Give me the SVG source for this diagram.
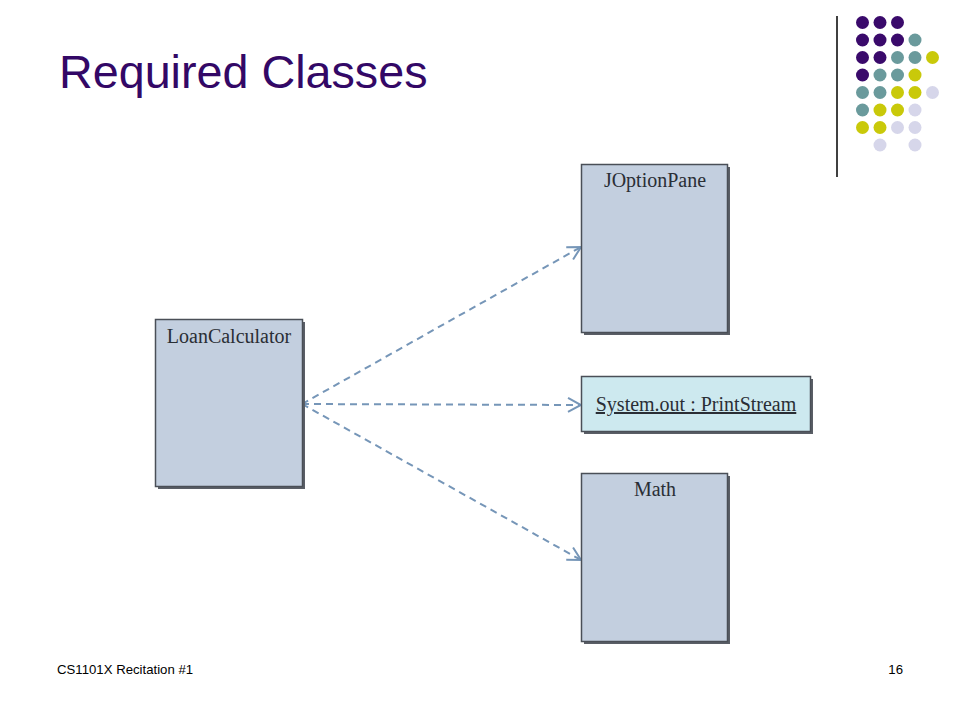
<svg xmlns="http://www.w3.org/2000/svg" width="960" height="720" viewBox="0 0 960 720">
<defs>
<style>
.box{fill:#C3CFDF;stroke:#4A4F57;stroke-width:1.5}
.obj{fill:#CDE9EF;stroke:#4A4F57;stroke-width:1.5}
.shadow{fill:#5A5E66}
.lbl{font-family:"Liberation Serif","Times New Roman",serif;font-size:20px;fill:#2A2E35;text-anchor:middle}
.conn{fill:none;stroke:#7696B8;stroke-width:2;stroke-dasharray:7,5}
.foot{font-family:"Liberation Sans",Arial,sans-serif;font-size:13.2px;fill:#000}
.p{fill:#3A0A6B}.t{fill:#6A9A9C}.y{fill:#C9C90A}.l{fill:#D6D6EA}
</style>
<marker id="arr" markerWidth="16" markerHeight="16" refX="14" refY="8" orient="auto" markerUnits="userSpaceOnUse">
<path d="M1,1 L14,8 L1,15" fill="none" stroke="#7696B8" stroke-width="2"/>
</marker>
</defs>
<rect width="960" height="720" fill="#FFFFFF"/>

<g id="title">
<text x="59" y="88" font-family="Liberation Sans, Arial, sans-serif" font-size="46.7" fill="#330866">Required Classes</text>
</g>

<g id="decor">
<line x1="837" y1="16" x2="837" y2="177" stroke="#000" stroke-width="1.5"/>
<circle class="p" cx="862.5" cy="22.5" r="6.5"/><circle class="p" cx="880" cy="22.5" r="6.5"/><circle class="p" cx="897.5" cy="22.5" r="6.5"/>
<circle class="p" cx="862.5" cy="40" r="6.5"/><circle class="p" cx="880" cy="40" r="6.5"/><circle class="p" cx="897.5" cy="40" r="6.5"/><circle class="t" cx="915" cy="40" r="6.5"/>
<circle class="p" cx="862.5" cy="57.5" r="6.5"/><circle class="p" cx="880" cy="57.5" r="6.5"/><circle class="t" cx="897.5" cy="57.5" r="6.5"/><circle class="t" cx="915" cy="57.5" r="6.5"/><circle class="y" cx="932.5" cy="57.5" r="6.5"/>
<circle class="p" cx="862.5" cy="75" r="6.5"/><circle class="t" cx="880" cy="75" r="6.5"/><circle class="t" cx="897.5" cy="75" r="6.5"/><circle class="y" cx="915" cy="75" r="6.5"/>
<circle class="t" cx="862.5" cy="92.5" r="6.5"/><circle class="t" cx="880" cy="92.5" r="6.5"/><circle class="y" cx="897.5" cy="92.5" r="6.5"/><circle class="y" cx="915" cy="92.5" r="6.5"/><circle class="l" cx="932.5" cy="92.5" r="6.5"/>
<circle class="t" cx="862.5" cy="110" r="6.5"/><circle class="y" cx="880" cy="110" r="6.5"/><circle class="y" cx="897.5" cy="110" r="6.5"/><circle class="l" cx="915" cy="110" r="6.5"/>
<circle class="y" cx="862.5" cy="127.5" r="6.5"/><circle class="y" cx="880" cy="127.5" r="6.5"/><circle class="l" cx="897.5" cy="127.5" r="6.5"/><circle class="l" cx="915" cy="127.5" r="6.5"/>
<circle class="l" cx="880" cy="145" r="6.5"/><circle class="l" cx="915" cy="145" r="6.5"/>
</g>

<g id="connectors">
<path class="conn" d="M302,404 L581,247" marker-end="url(#arr)"/>
<path class="conn" d="M302,404 L581,405" marker-end="url(#arr)"/>
<path class="conn" d="M302,404 L581,560" marker-end="url(#arr)"/>
</g>

<g id="LoanCalculator">
<rect class="shadow" x="158" y="322" width="147" height="167"/>
<rect class="box" x="155.5" y="319.5" width="147" height="167"/>
<text class="lbl" x="229" y="343">LoanCalculator</text>
</g>

<g id="JOptionPane">
<rect class="shadow" x="584" y="167" width="146" height="168"/>
<rect class="box" x="581.5" y="164.5" width="146" height="168"/>
<text class="lbl" x="655" y="187">JOptionPane</text>
</g>

<g id="SystemOut">
<rect class="shadow" x="584" y="379" width="229" height="55"/>
<rect class="obj" x="581.5" y="376.5" width="229" height="55"/>
<text class="lbl" x="696" y="411" text-decoration="underline">System.out : PrintStream</text>
</g>

<g id="Math">
<rect class="shadow" x="584" y="476" width="146" height="168"/>
<rect class="box" x="581.5" y="473.5" width="146" height="168"/>
<text class="lbl" x="655" y="496">Math</text>
</g>

<g id="footer">
<text class="foot" x="57" y="674">CS1101X Recitation #1</text>
<text class="foot" x="903" y="674" text-anchor="end">16</text>
</g>
</svg>
